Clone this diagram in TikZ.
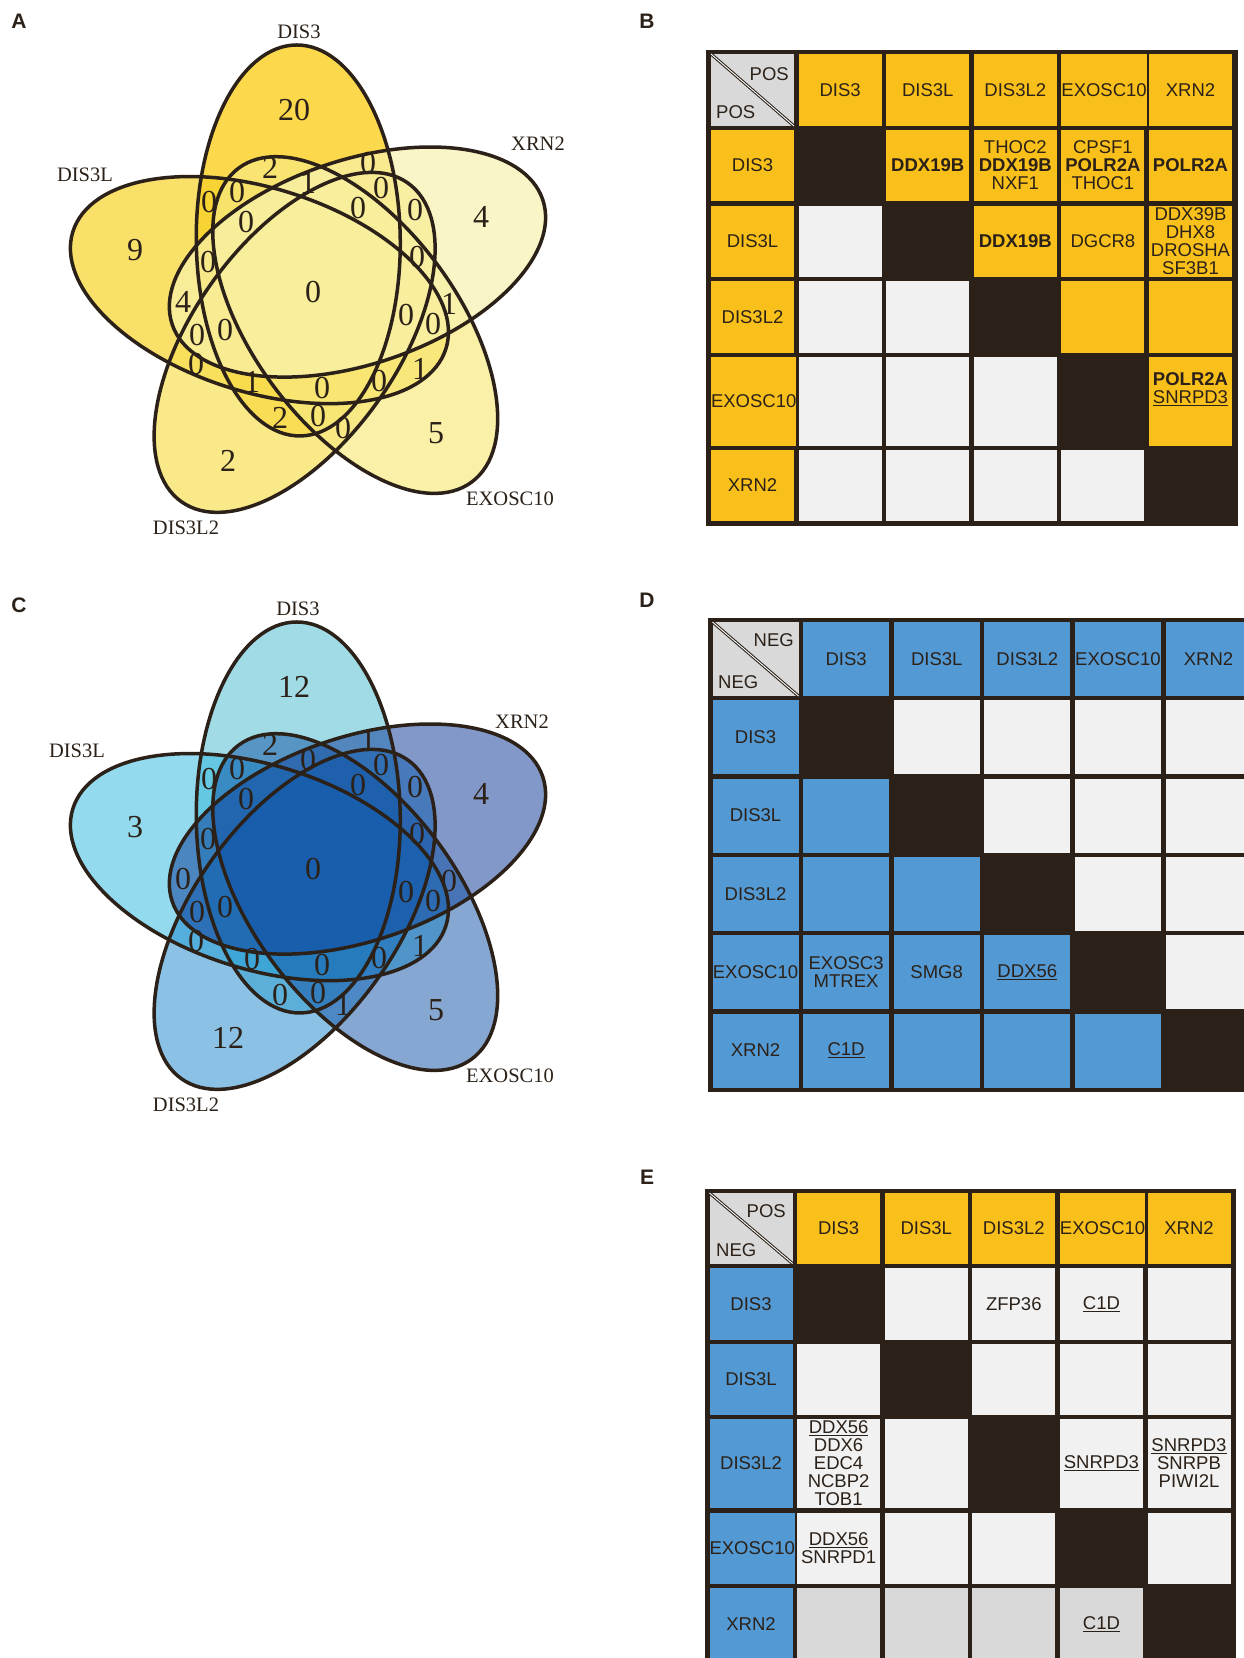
\documentclass[tikz,border=0pt]{standalone}
\usepackage{fontspec}
\setmainfont{Liberation Serif}
\newfontfamily\arial{Liberation Sans}
\usetikzlibrary{positioning}

\definecolor{inkdark}{HTML}{2B2118}
\definecolor{posyel}{HTML}{F9C01B}
\definecolor{negblue}{HTML}{5399D3}
\definecolor{lite}{HTML}{F1F1F1}
\definecolor{cornergray}{HTML}{D9D9D9}
% venn fills
\definecolor{ya1}{RGB}{252,202,0}
\definecolor{ya2}{RGB}{246,211,42}
\definecolor{ya3}{RGB}{248,242,174}
\definecolor{ya4}{RGB}{248,234,131}
\definecolor{ya5}{RGB}{249,224,88}
\definecolor{bc1}{RGB}{69,185,207}
\definecolor{bc2}{RGB}{41,183,225}
\definecolor{bc3}{RGB}{7,51,147}
\definecolor{bc4}{RGB}{15,81,165}
\definecolor{bc5}{RGB}{25,133,203}

\newcommand{\tabfont}{\arial\fontsize{18.5}{18}\selectfont}
\newcommand{\cellrow}[5]{%
  \foreach \c/\f/\t in {#5}
    \node[cell, fill=\f, minimum height=#4pt] (#1#2-\c) at ({\colx+\colp*\c},#3) {\t};}

\begin{document}
\begin{tikzpicture}[x=1pt, y=-1pt,
  every node/.style={text=inkdark},
  cell/.style={anchor=north west, inner sep=0pt, outer sep=0pt, minimum width=\colw pt, align=center, font=\tabfont},
  vnum/.style={font=\fontsize{32}{32}\selectfont},
  vlab/.style={font=\fontsize{20.5}{20.5}\selectfont},
  panel/.style={font=\arial\bfseries\fontsize{21}{21}\selectfont},
  petal/.style={line width=3.5pt, draw=inkdark},
  corner/.style={font=\tabfont, inner sep=0pt}]
\useasboundingbox (0,0) rectangle (1244,1658);
\fill[white] (0,0) rectangle (1244,1658);

% panel letters
\node[panel] (pa) at (19,21) {A};
\node[panel] (pb) at (647,21) {B};
\node[panel] (pc) at (19,605) {C};
\node[panel] (pd) at (647,600) {D};
\node[panel] (pe) at (647,1177) {E};

% Venn A (positive) and C (negative)
\foreach \a/\col in {90.6/ya1, 162.6/ya2, -125.4/ya5, -53.4/ya4, 18.6/ya3}
  \fill[fill=\col, fill opacity=0.7, shift={(313,292)}, rotate=\a] (51.7,-14.2) ellipse [x radius=195.5pt, y radius=102pt];
\foreach \a/\col in {90.6/bc1, 162.6/bc2, -125.4/bc5, 18.6/bc3, -53.4/bc4}
  \fill[fill=\col, fill opacity=0.5, shift={(313,869)}, rotate=\a] (51.7,-14.2) ellipse [x radius=195.5pt, y radius=102pt];
\foreach \a in {90.6,18.6,-53.4,-125.4,162.6} {
  \draw[petal, shift={(313,292)}, rotate=\a] (51.7,-14.2) ellipse [x radius=195.5pt, y radius=102pt];
  \draw[petal, shift={(313,869)}, rotate=\a] (51.7,-14.2) ellipse [x radius=195.5pt, y radius=102pt];
}
\foreach \x/\y/\ta/\tc [count=\i] in {294/110/20/12, 135/250/9/3, 481/217/4/4, 436/433/5/5,
    228/461/2/12, 313/292/0/0, 270/168/2/2, 308/183/1/0, 368/163/0/1, 209/202/0/0,
    237/192/0/0, 381/188/0/0, 246/222/0/0, 358/208/0/0, 415/210/0/0, 208/262/0/0,
    417/257/0/0, 183/302/4/0, 449/304/1/0, 225/330/0/0, 406/315/0/0, 197/335/0/0,
    433/324/0/0, 196/364/0/0, 420/369/1/1, 252/382/1/0, 322/388/0/0, 379/381/0/0,
    280/418/2/0, 318/416/0/0, 343/428/0/1} {
  \node[vnum] (a\i) at (\x,\y) {\ta};
  \node[vnum] (c\i) at (\x,{\y+577}) {\tc};
}
\node[vlab] (adis3) at (299,32) {DIS3};
\node[vlab] (axrn2) at (538,144) {XRN2};
\node[vlab] (adis3l) at (85,175) {DIS3L};
\node[vlab] (adis3l2) at (186,528) {DIS3L2};
\node[vlab] (aexosc) at (510,499) {EXOSC10};
\node[vlab] (cdis3) at (298,609) {DIS3};
\node[vlab] (cxrn2) at (522,722) {XRN2};
\node[vlab] (cdis3l) at (77,751) {DIS3L};
\node[vlab] (cdis3l2) at (186,1105) {DIS3L2};
\node[vlab] (cexosc) at (510,1076) {EXOSC10};

% table B: POS vs POS
\def\colx{711}\def\colp{87.6}\def\colw{83}
\fill[inkdark] (706,50) rectangle (1237.5,525.5);
\cellrow{b}{0}{54}{72}{0/cornergray/{}, 1/posyel/DIS3, 2/posyel/DIS3L, 3/posyel/DIS3L2, 4/posyel/EXOSC10, 5/posyel/XRN2}
\cellrow{b}{1}{130}{71}{0/posyel/DIS3, 1/inkdark/{}, 2/posyel/\textbf{DDX19B}, 3/posyel/{THOC2\\\textbf{DDX19B}\\NXF1}, 4/posyel/{CPSF1\\\textbf{POLR2A}\\THOC1}, 5/posyel/\textbf{POLR2A}}
\cellrow{b}{2}{205.5}{71.5}{0/posyel/DIS3L, 1/lite/{}, 2/inkdark/{}, 3/posyel/\textbf{DDX19B}, 4/posyel/DGCR8, 5/posyel/{DDX39B\\DHX8\\DROSHA\\SF3B1}}
\cellrow{b}{3}{281}{72}{0/posyel/DIS3L2, 1/lite/{}, 2/lite/{}, 3/inkdark/{}, 4/posyel/{}, 5/posyel/{}}
\cellrow{b}{4}{357}{89}{0/posyel/EXOSC10, 1/lite/{}, 2/lite/{}, 3/lite/{}, 4/inkdark/{}, 5/posyel/{\textbf{POLR2A}\\\underline{SNRPD3}\\[8pt]}}
\cellrow{b}{5}{450}{71}{0/posyel/XRN2, 1/lite/{}, 2/lite/{}, 3/lite/{}, 4/lite/{}, 5/inkdark/{}}
\draw[inkdark, line width=3pt] (b0-0.north west) -- (b0-0.south east);
\draw[white, line width=0.9pt] (b0-0.north west) -- (b0-0.south east);
\node[corner, anchor=east] (bcol) at (789,74.5) {POS};
\node[corner, anchor=west] (brow) at (716,112) {POS};

% table D: NEG vs NEG
\def\colx{712.5}\def\colp{90.6}\def\colw{86}
\fill[inkdark] (707.6,618) rectangle (1262,1091.7);
\cellrow{d}{0}{622}{74}{0/cornergray/{}, 1/negblue/DIS3, 2/negblue/DIS3L, 3/negblue/DIS3L2, 4/negblue/EXOSC10, 5/negblue/XRN2}
\cellrow{d}{1}{700.3}{74}{0/negblue/DIS3, 1/inkdark/{}, 2/lite/{}, 3/lite/{}, 4/lite/{}, 5/lite/{}}
\cellrow{d}{2}{778.6}{74}{0/negblue/DIS3L, 1/negblue/{}, 2/inkdark/{}, 3/lite/{}, 4/lite/{}, 5/lite/{}}
\cellrow{d}{3}{856.9}{74}{0/negblue/DIS3L2, 1/negblue/{}, 2/negblue/{}, 3/inkdark/{}, 4/lite/{}, 5/lite/{}}
\cellrow{d}{4}{935.2}{74}{0/negblue/EXOSC10, 1/negblue/{EXOSC3\\MTREX}, 2/negblue/SMG8, 3/negblue/\underline{DDX56}, 4/inkdark/{}, 5/lite/{}}
\cellrow{d}{5}{1013.5}{74}{0/negblue/XRN2, 1/negblue/\underline{C1D}, 2/negblue/{}, 3/negblue/{}, 4/negblue/{}, 5/inkdark/{}}
\draw[inkdark, line width=3pt] (d0-0.north west) -- (d0-0.south east);
\draw[white, line width=0.9pt] (d0-0.north west) -- (d0-0.south east);
\node[corner, anchor=east] (dcol) at (794,640) {NEG};
\node[corner, anchor=west] (drow) at (718,682) {NEG};

% table E: NEG rows vs POS columns
\def\colx{709.5}\def\colp{87.6}\def\colw{83}
\fill[inkdark] (705,1189) rectangle (1235.5,1670);
\cellrow{e}{0}{1193}{70.5}{0/cornergray/{}, 1/posyel/DIS3, 2/posyel/DIS3L, 3/posyel/DIS3L2, 4/posyel/EXOSC10, 5/posyel/XRN2}
\cellrow{e}{1}{1268}{72}{0/negblue/DIS3, 1/inkdark/{}, 2/lite/{}, 3/lite/ZFP36, 4/lite/\underline{C1D}, 5/lite/{}}
\cellrow{e}{2}{1344}{71}{0/negblue/DIS3L, 1/lite/{}, 2/inkdark/{}, 3/lite/{}, 4/lite/{}, 5/lite/{}}
\cellrow{e}{3}{1419}{89}{0/negblue/DIS3L2, 1/lite/{\underline{DDX56}\\DDX6\\EDC4\\NCBP2\\TOB1}, 2/lite/{}, 3/inkdark/{}, 4/lite/\underline{SNRPD3}, 5/lite/{\underline{SNRPD3}\\SNRPB\\PIWI2L}}
\cellrow{e}{4}{1512.5}{71.5}{0/negblue/EXOSC10, 1/lite/{\underline{DDX56}\\SNRPD1}, 2/lite/{}, 3/lite/{}, 4/inkdark/{}, 5/lite/{}}
\cellrow{e}{5}{1588.3}{72}{0/negblue/XRN2, 1/cornergray/{}, 2/cornergray/{}, 3/cornergray/{}, 4/cornergray/\underline{C1D}, 5/inkdark/{}}
\draw[inkdark, line width=3pt] (e0-0.north west) -- (e0-0.south east);
\draw[white, line width=0.9pt] (e0-0.north west) -- (e0-0.south east);
\node[corner, anchor=east] (ecol) at (786,1211.5) {POS};
\node[corner, anchor=west] (erow) at (716,1250.5) {NEG};
\end{tikzpicture}
\end{document}
